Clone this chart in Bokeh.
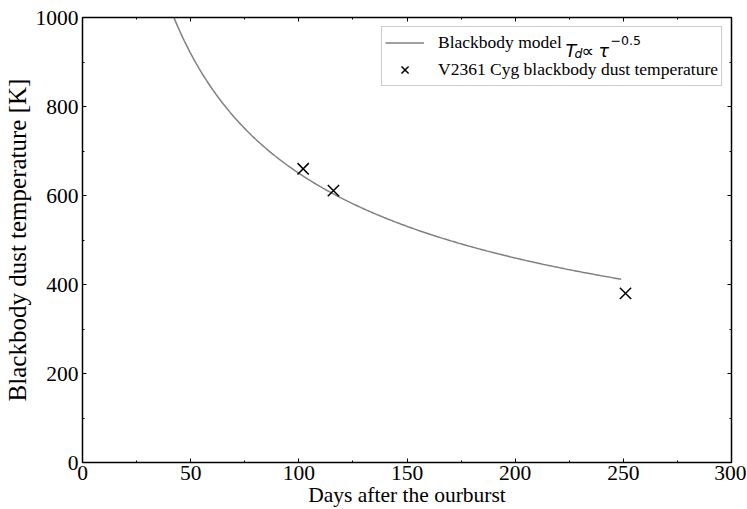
import numpy as np
from bokeh.plotting import figure
from bokeh.models import (Range1d, LinearAxis, SingleIntervalTicker, Legend, LegendItem,
                          Label, CustomJSTickFormatter)
from bokeh.embed import file_html
from bokeh.resources import INLINE

# ---- data ----
obs_days = [102, 116, 251]
obs_temp = [660, 611, 380]

model_coeff = 6500.0      # T_d = C * tau^-0.5
model_exponent = -0.5
model_start, model_end = 40.0, 249.0

x_label = "Days after the ourburst"
y_label = "Blackbody dust temperature [K]"
legend_labels = ["Blackbody model", "V2361 Cyg blackbody dust temperature"]

model_days = np.linspace(model_start, model_end, 300)
model_temp = model_coeff * model_days ** model_exponent

SERIF = "Liberation Serif"
MATH = "DejaVu Sans"

p = figure(width=746, height=509, output_backend="svg", toolbar_location=None,
           x_range=Range1d(0, 300), y_range=Range1d(0, 1000),
           min_border_left=82, min_border_right=15, min_border_top=17, min_border_bottom=0,
           x_axis_label=x_label, y_axis_label=y_label)
p.grid.visible = False
p.outline_line_color = None
p.background_fill_color = "white"
p.border_fill_color = "white"

line_r = p.line(model_days, model_temp, line_color="#808080", line_width=1.5)
sc_r = p.scatter(obs_days, obs_temp, marker="x", size=16, line_color="black", line_width=1.5)

xa = p.xaxis[0]
ya = p.yaxis[0]
xa.ticker = SingleIntervalTicker(interval=50, num_minor_ticks=2)
ya.ticker = SingleIntervalTicker(interval=200, num_minor_ticks=2)
for ax in (xa, ya):
    ax.axis_line_color = "black"
    ax.axis_line_width = 1.5
    ax.major_tick_in = 4
    ax.major_tick_out = 0
    ax.minor_tick_in = 2
    ax.minor_tick_out = 0
    ax.major_tick_line_color = "black"
    ax.minor_tick_line_color = "black"
    ax.major_label_text_font = SERIF
    ax.major_label_text_font_size = "21.5px"
    ax.major_label_text_color = "black"
    ax.axis_label_text_font = SERIF
    ax.axis_label_text_font_style = "normal"
    ax.axis_label_text_color = "black"
    ax.axis_label_text_line_height = 1.0
xa.axis_label_text_font_size = "21.5px"
ya.axis_label_text_font_size = "25px"
xa.major_label_standoff = 3
ya.major_label_standoff = 4
xa.axis_label_standoff = 0
ya.axis_label_standoff = 2

blank = CustomJSTickFormatter(code="return ''")
for loc, interval in (("above", 50), ("right", 200)):
    ax = LinearAxis(ticker=SingleIntervalTicker(interval=interval, num_minor_ticks=2),
                    formatter=blank, axis_line_color="black", axis_line_width=1.5,
                    major_tick_in=4, major_tick_out=0, minor_tick_in=2, minor_tick_out=0,
                    major_label_standoff=0, major_label_text_font_size="1px")
    p.add_layout(ax, loc)

legend = Legend(items=[LegendItem(label=legend_labels[0], renderers=[line_r]),
                       LegendItem(label=legend_labels[1], renderers=[sc_r])],
                location="top_right", margin=9, padding=3, spacing=2,
                glyph_width=39, glyph_height=25, label_height=18, label_standoff=14,
                label_text_font=SERIF, label_text_font_size="17.5px",
                label_text_color="black",
                border_line_color="#cccccc", border_line_width=1, border_line_alpha=1.0,
                background_fill_alpha=0.0)
p.add_layout(legend, "center")

# math part of the first legend label: T_d ∝ τ^{-0.5}
math_parts = [
    ("T", 483, 412, "17.5px", "italic"),
    ("d", 492, 409, "12.5px", "italic"),
    ("∝", 499, 412, "17.5px", "normal"),
    ("τ", 516, 412, "17.5px", "italic"),
    ("−0.5", 528, 422, "12.5px", "normal"),
]
for txt, sx, sy, fs, st in math_parts:
    p.add_layout(Label(x=sx, y=sy, x_units="screen", y_units="screen", text=txt,
                       text_font=MATH, text_font_size=fs, text_font_style=st,
                       text_color="black", text_baseline="alphabetic", text_align="left",
                       level="overlay"))

open("out.html", "w").write(file_html(p, INLINE))
